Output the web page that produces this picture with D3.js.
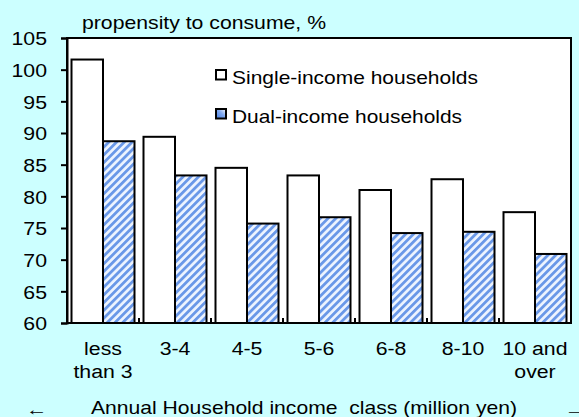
<!DOCTYPE html>
<html>
<head>
<meta charset="utf-8">
<script src="https://cdn.jsdelivr.net/npm/d3@7/dist/d3.min.js"></script>
<style>
  html, body { margin: 0; padding: 0; background: #ccffff; }
  svg { display: block; }
  text { font-family: Arial, "Liberation Sans", sans-serif; fill: #000; }
</style>
</head>
<body>
<svg id="chart" width="579" height="417"></svg>
<script>
const categories = [["less", "than 3"], ["3-4"], ["4-5"], ["5-6"], ["6-8"], ["8-10"], ["10 and", "over"]];
const seriesNames = ["Single-income households", "Dual-income households"];
const singleIncome = [101.6, 89.4, 84.5, 83.3, 81.0, 82.7, 77.5];
const dualIncome = [88.7, 83.3, 75.7, 76.7, 74.2, 74.4, 70.9];
const yTicks = [60, 65, 70, 75, 80, 85, 90, 95, 100, 105];
const yTitle = "propensity to consume, %";
const xTitle = "Annual Household income  class (million yen)";

const svg = d3.select("#chart");
const W = 579, H = 417;
const m = { left: 67, right: 571, top: 38, bottom: 323 };
const FS = 19, SX = 1.12;

svg.append("rect").attr("width", W).attr("height", H).attr("fill", "#ccffff");

const defs = svg.append("defs");
const pat = defs.append("pattern")
  .attr("id", "hatch").attr("patternUnits", "userSpaceOnUse")
  .attr("width", 5.5).attr("height", 5.5)
  .attr("patternTransform", "rotate(45)");
pat.append("rect").attr("width", 5.5).attr("height", 5.5).attr("fill", "#eef4ff");
pat.append("rect").attr("width", 2.8).attr("height", 5.5).attr("fill", "#6a98e8");

const grad = defs.append("linearGradient").attr("id", "legGrad")
  .attr("x1", "0").attr("y1", "1").attr("x2", "1").attr("y2", "0");
grad.append("stop").attr("offset", "0").attr("stop-color", "#4a7fe0");
grad.append("stop").attr("offset", "0.55").attr("stop-color", "#7fa8f0");
grad.append("stop").attr("offset", "1").attr("stop-color", "#ffffff");

const x = d3.scaleBand().domain(d3.range(categories.length))
  .range([m.left, m.right]).paddingInner(0.125).paddingOuter(0.0625);
const xs = d3.scaleBand().domain([0, 1]).range([0, x.bandwidth()]);
const y = d3.scaleLinear().domain([60, 105]).range([m.bottom, m.top]);

// helper: stretched text
function sText(px, py, str, anchor, len) {
  const t = svg.append("text")
    .attr("transform", `translate(${px},${py})` + (len ? "" : ` scale(${SX},1)`))
    .attr("font-size", FS)
    .attr("text-anchor", anchor || "start")
    .attr("xml:space", "preserve")
    .text(str);
  if (len) t.attr("textLength", len).attr("lengthAdjust", "spacingAndGlyphs");
  return t;
}

// plot area
svg.append("rect").attr("x", m.left).attr("y", m.top)
  .attr("width", m.right - m.left).attr("height", m.bottom - m.top)
  .attr("fill", "#ffffff");

// bars
const series = [singleIncome, dualIncome];
const fills = ["#ffffff", "url(#hatch)"];
series.forEach((vals, si) => {
  svg.append("g").selectAll("rect").data(vals).join("rect")
    .attr("x", (d, i) => x(i) + xs(si))
    .attr("y", d => y(d))
    .attr("width", xs.bandwidth())
    .attr("height", d => y(60) - y(d))
    .attr("fill", fills[si])
    .attr("stroke", "#000").attr("stroke-width", 2);
});

// frame
svg.append("rect").attr("x", m.left).attr("y", m.top)
  .attr("width", m.right - m.left).attr("height", m.bottom - m.top)
  .attr("fill", "none").attr("stroke", "#000").attr("stroke-width", 2);

// y axis
const yAxis = d3.axisLeft(y).tickValues(yTicks).tickSize(6).tickPadding(13);
const gy = svg.append("g").attr("transform", `translate(${m.left},0)`).call(yAxis);
gy.select(".domain").attr("stroke-width", 2);
gy.selectAll(".tick line").attr("stroke-width", 2);
gy.selectAll(".tick text")
  .attr("font-size", FS).attr("font-family", "Arial, 'Liberation Sans', sans-serif")
  .attr("x", 0).attr("dy", "0.36em")
  .attr("transform", `translate(-20,0) scale(${SX},1)`);

// category separator ticks (upward)
const sepX = d3.range(1, categories.length).map(i => m.left + i * x.step());
svg.append("g").selectAll("line").data(sepX).join("line")
  .attr("x1", d => d).attr("x2", d => d)
  .attr("y1", m.bottom).attr("y2", m.bottom - 5)
  .attr("stroke", "#000").attr("stroke-width", 2);

// x labels
categories.forEach((lines, i) => {
  lines.forEach((l, k) => {
    sText(x(i) + x.bandwidth() / 2, 355 + k * 23, l, "middle");
  });
});

// titles
sText(82, 29, yTitle, "start", 244);
sText(91, 414, xTitle, "start", 426);
svg.append("text").attr("transform", "translate(26,415) scale(1.35,1)")
  .attr("font-size", 16).attr("font-family", "'DejaVu Sans', sans-serif").text("←");
svg.append("text").attr("transform", "translate(564,415) scale(1.6,1)")
  .attr("font-size", 16).attr("font-family", "'DejaVu Sans', sans-serif").text("→");

// legend
const legFills = ["#ffffff", "url(#legGrad)"];
const legLens = [246, 230];
seriesNames.forEach((n, i) => {
  const yy = 70 + i * 39;
  svg.append("rect").attr("x", 216).attr("y", yy).attr("width", 10).attr("height", 9.5)
    .attr("fill", legFills[i]).attr("stroke", "#000").attr("stroke-width", 2);
  sText(232, yy + 13.5, n, "start", legLens[i]);
});
</script>
</body>
</html>
